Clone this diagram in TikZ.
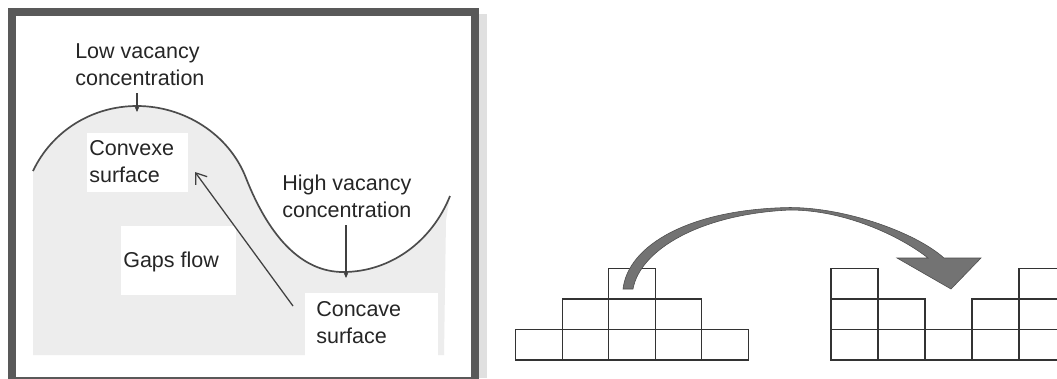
\documentclass[tikz,border=0pt]{standalone}
\usepackage{fontspec}
\setmainfont{Liberation Sans}
\usetikzlibrary{arrows.meta}
\tikzset{
	lbl/.style={font=\fontsize{15.3}{18.8}\selectfont,align=left,inner sep=0pt,text=black!85,anchor=base west},
	cell/.style={draw=black!80,line width=0.8pt},
	tick/.style={black!75,line width=0.9pt,-{Stealth[length=4pt,width=3.5pt]}},
	flow/.style={black!75,line width=0.9pt,-{Straight Barb[length=7pt,width=10pt]}},
}
\begin{document}
\begin{tikzpicture}[x=0.025cm,y=-0.025cm,scale=1]
	\useasboundingbox (0,0) rectangle (1057,378);
	\fill[white] (0,0) rectangle (1057,378);
	\fill[black!12] (479,14) rectangle (487,378);
	\fill[black!7] (33,355) -- (33,171) .. controls (52,131) and (92,106) .. (137,106) .. controls (184,106) and (229,134) .. (246,178) .. controls (268,234) and (300,272) .. (343,272) .. controls (391,272) and (432,241) .. (450,196) -- (446,220) -- (444,355) -- cycle;
	\fill[white] (87,133) rectangle (188,192);
	\fill[white] (121,226) rectangle (236,295);
	\fill[white] (305,293) rectangle (438,357);
	\draw[black!70,line width=1.2pt] (33,171) .. controls (52,131) and (92,106) .. (137,106) .. controls (184,106) and (229,134) .. (246,178) .. controls (268,234) and (300,272) .. (343,272) .. controls (391,272) and (432,241) .. (450,196);
	\draw[black!65,line width=5.7pt] (12,12) rectangle (475,381);
	\node[lbl] (lowLbl) at (75,85) {Low vacancy\\concentration};
	\node[lbl] (convexLbl) at (89,182) {Convexe\\surface};
	\node[lbl] (highLbl) at (282,217) {High vacancy\\concentration};
	\node[lbl] (gapsLbl) at (123,267) {Gaps flow};
	\node[lbl] (concaveLbl) at (316,343) {Concave\\surface};
	\path (137,93)coordinate(lowTop) (137,112)coordinate(lowHit) (346,225)coordinate(highTop) (346,278)coordinate(highHit);
	\path (293,306)coordinate(flowTail) (195,172)coordinate(flowTip);
	\draw[tick] (lowTop)--(lowHit);
	\draw[tick] (highTop)--(highHit);
	\draw[flow] (flowTail)--(flowTip);
	\foreach \c/\r in {0/0,1/0,2/0,3/0,4/0,1/1,2/1,3/1,2/2}
		\draw[cell] ({515.5+46.6*\c},{360-30.5*\r}) rectangle ++(46.6,-30.5);
	\begin{scope}
		\clip (800,200) rectangle (1057,378);
		\foreach \c/\r in {0/0,1/0,2/0,3/0,4/0,0/1,1/1,3/1,4/1,0/2,4/2}
			\draw[cell] ({831+47*\c},{360-30.5*\r}) rectangle ++(47,-30.5);
	\end{scope}
	\fill[black!55,draw=black!70,line width=0.4pt] (623,289) .. controls (628,245) and (690,209) .. (790,207.5) .. controls (845,207.5) and (915,232) .. (944,258) -- (981,258) -- (951,289) -- (897,258) -- (928,258) .. controls (900,236) and (845,210) .. (790,210) .. controls (700,214) and (640,250) .. (633,289) -- cycle;
\end{tikzpicture}
\end{document}
